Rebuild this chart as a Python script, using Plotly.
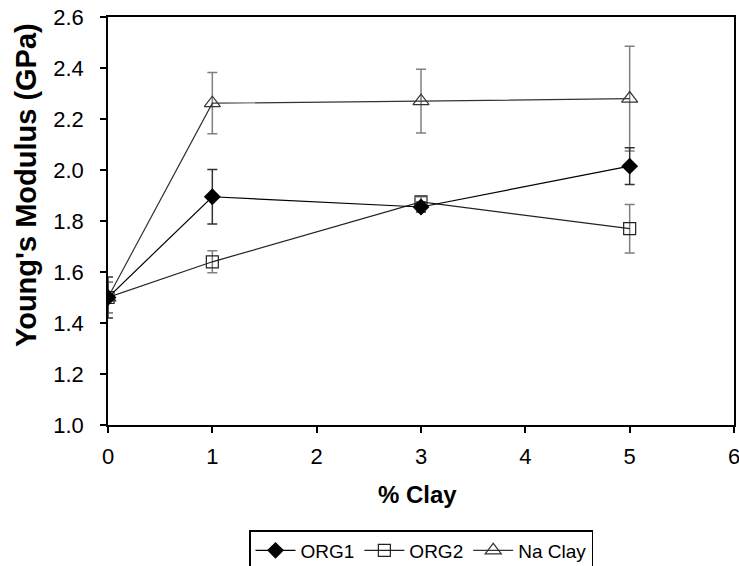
import plotly.graph_objects as go

clay = [0, 1, 3, 5]
org1 = [1.50, 1.895, 1.855, 2.015]
org1_err = [0.08, 0.107, 0.02, 0.072]
org2 = [1.50, 1.64, 1.875, 1.77]
org2_err = [0.06, 0.043, 0.02, 0.095]
na_clay = [1.50, 2.262, 2.27, 2.28]
na_clay_err = [0.06, 0.12, 0.125, 0.205]

x_ticks = [0, 1, 2, 3, 4, 5, 6]
y_ticks = [1.0, 1.2, 1.4, 1.6, 1.8, 2.0, 2.2, 2.4, 2.6]

font_family = "Liberation Sans, Arial, Helvetica, sans-serif"

fig = go.Figure()

fig.add_trace(go.Scatter(
    x=clay, y=na_clay, name="Na Clay", mode="lines+markers",
    line=dict(color="#333333", width=1.2),
    marker=dict(symbol="triangle-up-open", size=14, color="#333333", line=dict(width=1.2)),
    error_y=dict(type="data", array=na_clay_err, color="#808080", thickness=1.5, width=5),
))
fig.add_trace(go.Scatter(
    x=clay, y=org2, name="ORG2", mode="lines+markers",
    line=dict(color="#222222", width=1.2),
    marker=dict(symbol="square-open", size=12, color="#222222", line=dict(width=1.2)),
    error_y=dict(type="data", array=org2_err, color="#808080", thickness=1.5, width=5),
))
fig.add_trace(go.Scatter(
    x=clay, y=org1, name="ORG1", mode="lines+markers",
    line=dict(color="#000000", width=1.2),
    marker=dict(symbol="diamond", size=13, color="#000000"),
    error_y=dict(type="data", array=org1_err, color="#333333", thickness=1.5, width=5),
))

fig.update_layout(
    width=739, height=566,
    margin=dict(l=108, r=5, t=17, b=141),
    paper_bgcolor="white", plot_bgcolor="white",
    font=dict(family=font_family, color="black", size=22),
    showlegend=True,
    legend=dict(
        orientation="h", x=0.5, xanchor="center", xref="paper",
        y=(566 - 530) / 566, yanchor="top", yref="container",
        bordercolor="black", borderwidth=1.5, traceorder="reversed",
        font=dict(size=19), itemwidth=40, tracegroupgap=0,
    ),
    annotations=[
        dict(text="<b>Young's Modulus (GPa)</b>", textangle=-90,
             xref="paper", yref="paper", x=(26 - 108) / 626, y=(425 - 185) / 408,
             xanchor="center", yanchor="middle", showarrow=False,
             font=dict(size=29)),
        dict(text="<b>% Clay</b>",
             xref="paper", yref="paper", x=(417.5 - 108) / 626, y=(425 - 494) / 408,
             xanchor="center", yanchor="middle", showarrow=False,
             font=dict(size=24)),
    ],
)
fig.update_xaxes(
    range=[0, 6], tickvals=x_ticks, ticktext=[str(v) for v in x_ticks],
    tickfont=dict(size=22, family=font_family, color="black"),
    showgrid=False, zeroline=False, showline=True, linecolor="black", linewidth=1.5,
    mirror=True, ticks="outside", ticklen=6, tickcolor="black", tickwidth=1.5,
    ticklabelstandoff=5, automargin=False, ticklabeloverflow="allow",
)
fig.update_yaxes(
    range=[1.0, 2.6], tickvals=y_ticks, ticktext=[f"{v:.1f}" for v in y_ticks],
    tickfont=dict(size=22, family=font_family, color="black"),
    showgrid=False, zeroline=False, showline=True, linecolor="black", linewidth=1.5,
    mirror=True, ticks="outside", ticklen=6, tickcolor="black", tickwidth=1.5,
    ticklabelstandoff=12, automargin=False, ticklabeloverflow="allow",
)

fig.write_html("out.html")
